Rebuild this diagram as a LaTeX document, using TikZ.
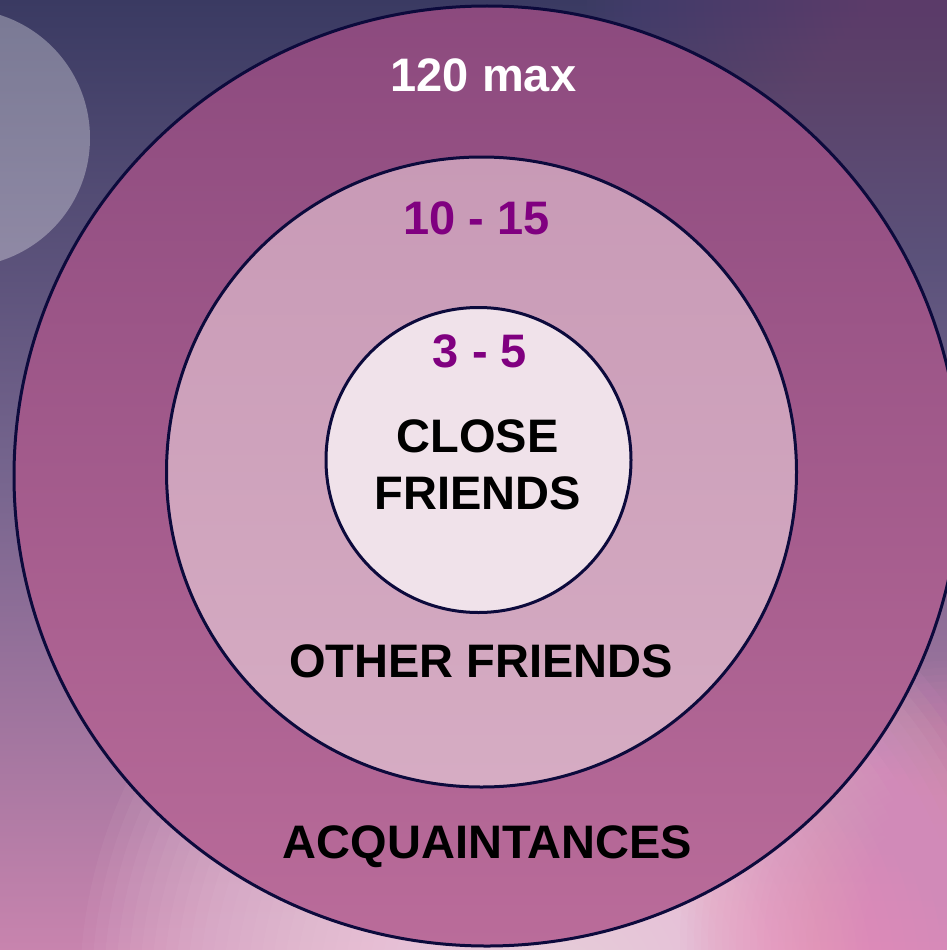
\documentclass[tikz,border=0pt]{standalone}
\usepackage{fontspec}
\setmainfont{Liberation Sans}
\definecolor{bgtop}{HTML}{3A3A62}
\definecolor{bgmid}{HTML}{76658E}
\definecolor{bgbot}{HTML}{C884AE}
\definecolor{glow}{HTML}{F8DCEA}
\definecolor{pinkr}{HTML}{E48AB8}
\definecolor{tr}{HTML}{7A5A88}
\definecolor{ringtop}{HTML}{8C4A7E}
\definecolor{ringbot}{HTML}{BA6C9A}
\definecolor{midtop}{HTML}{C89AB6}
\definecolor{midbot}{HTML}{D6ACC3}
\definecolor{innerc}{HTML}{F0E2EA}
\definecolor{edge}{HTML}{0C0A3C}
\definecolor{numc}{HTML}{800080}
\tikzset{
  lbl/.style={font=\fontsize{47}{57}\selectfont\bfseries, anchor=base, inner sep=0pt},
  ring/.style={draw=edge, line width=3pt}
}
\begin{document}
\begin{tikzpicture}[x=1pt,y=-1pt]
\useasboundingbox (0,0) rectangle (947,950);
% background
\shade[top color=bgtop, bottom color=bgbot, middle color=bgmid] (0,0) rectangle (947,950);
\begin{scope}
\clip (0,0) rectangle (947,950);
\foreach \i in {1,...,40}{
  \fill[tr, opacity=0.03] (947,0) circle ({\i*9pt});
}
\foreach \i in {1,...,40}{
  \fill[glow, opacity=0.055] (560,990) circle ({\i*12pt});
}
\foreach \i in {1,...,40}{
  \fill[pinkr, opacity=0.05] (960,940) circle ({\i*7pt});
}
\fill[white, opacity=0.32] (-39,138) circle (129pt);
\end{scope}
% rings
\shade[ring, top color=ringtop, bottom color=ringbot] (487,476) ellipse [x radius=473pt, y radius=470pt];
\shade[ring, top color=midtop, bottom color=midbot] (481.5,472) circle (315pt);
\fill[ring, fill=innerc] (478.5,460) circle (152.5pt);
% labels
\node[lbl, white] (t120) at (483.5,92) {120 max};
\node[lbl, numc] (t1015) at (476.5,234) {10 - 15};
\node[lbl, numc] (t35) at (480,367) {3 - 5};
\node[lbl, black] (tclose) at (477.5,452) {CLOSE};
\node[lbl, black] (tfriends) at (477.5,509) {FRIENDS};
\node[lbl, black] (tother) at (481,677) {OTHER FRIENDS};
\node[lbl, black] (tacq) at (487.5,858) {ACQUAINTANCES};
\end{tikzpicture}
\end{document}
